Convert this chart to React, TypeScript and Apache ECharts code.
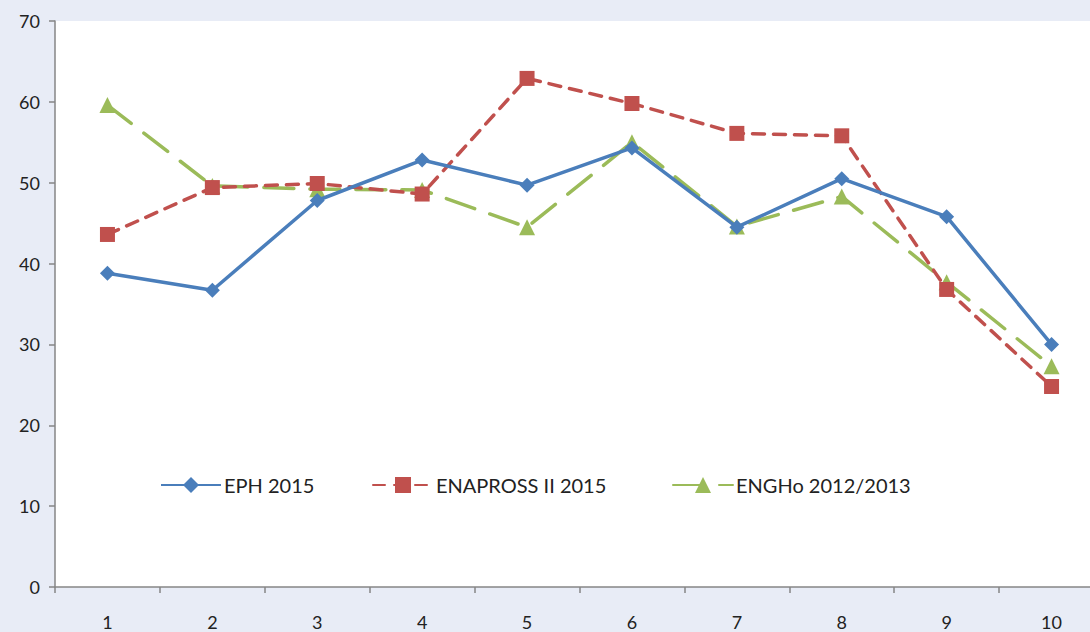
import React, { useEffect, useRef } from "react";
import * as echarts from "echarts";

const categories = ["1", "2", "3", "4", "5", "6", "7", "8", "9", "10"];
const eph2015 = [38.8, 36.7, 47.8, 52.8, 49.7, 54.3, 44.5, 50.5, 45.8, 30.0];
const enapross2015 = [43.6, 49.4, 49.9, 48.6, 62.9, 59.8, 56.1, 55.8, 36.8, 24.8];
const engho = [59.6, 49.6, 49.2, 49.1, 44.5, 55.0, 44.6, 48.3, 37.7, 27.3];
const seriesNames = ["EPH 2015", "ENAPROSS II 2015", "ENGHo 2012/2013"];

const FONT = "Lato, 'Noto Sans', sans-serif";

export default function App() {
  const ref = useRef<HTMLDivElement>(null);
  useEffect(() => {
    document.body.style.margin = "0";
    const chart = echarts.init(ref.current!, undefined, { renderer: "svg" });
    const legendBase = {
      orient: "horizontal" as const,
      top: 470,
      itemWidth: 60,
      itemHeight: 20,
      itemGap: 5,
      textStyle: { fontFamily: FONT, fontSize: 20, color: "#222", padding: [0, 0, 0, -2] },
    };
    chart.setOption({
      animation: false,
      backgroundColor: "#e8ecf6",
      textStyle: { fontFamily: FONT },
      grid: {
        left: 55,
        top: 21,
        width: 1049,
        height: 566,
        show: true,
        backgroundColor: "#ffffff",
        borderWidth: 0,
        containLabel: false,
        outerBoundsMode: "none",
      },
      legend: [
        { ...legendBase, left: 155, data: [seriesNames[0]] },
        { ...legendBase, left: 367, data: [seriesNames[1]] },
        { ...legendBase, left: 667, data: [seriesNames[2]] },
      ],
      xAxis: {
        type: "category",
        data: categories,
        boundaryGap: true,
        axisLine: { lineStyle: { color: "#868686", width: 1.5 } },
        axisTick: { show: true, length: 6, inside: false, lineStyle: { color: "#868686", width: 1.5 } },
        axisLabel: { margin: 26, fontSize: 18, color: "#222", fontFamily: FONT },
        splitLine: { show: false },
      },
      yAxis: {
        type: "value",
        min: 0,
        max: 70,
        interval: 10,
        axisLine: { show: true, lineStyle: { color: "#868686", width: 1.5 } },
        axisTick: { show: true, length: 6, lineStyle: { color: "#868686", width: 1.5 } },
        axisLabel: { margin: 15, fontSize: 18, color: "#222", fontFamily: FONT },
        splitLine: { show: false },
      },
      series: [
        {
          name: seriesNames[0],
          type: "line",
          data: eph2015,
          symbol: "diamond",
          symbolSize: 15,
          color: "#4a7ebb",
          lineStyle: { color: "#4a7ebb", width: 3.5, type: "solid" },
          itemStyle: { color: "#4a7ebb" },
          z: 4,
        },
        {
          name: seriesNames[1],
          type: "line",
          data: enapross2015,
          symbol: "rect",
          symbolSize: 15,
          color: "#c0504d",
          lineStyle: { color: "#c0504d", width: 3.5, type: [12, 9], cap: "round" },
          itemStyle: { color: "#c0504d" },
          z: 3,
        },
        {
          name: seriesNames[2],
          type: "line",
          data: engho,
          symbol: "triangle",
          symbolSize: 16,
          color: "#9bbb59",
          lineStyle: { color: "#9bbb59", width: 3.5, type: [30, 16], cap: "round" },
          itemStyle: { color: "#9bbb59" },
          z: 2,
        },
      ],
    });
    return () => chart.dispose();
  }, []);
  return <div ref={ref} style={{ width: 1090, height: 632 }} />;
}
